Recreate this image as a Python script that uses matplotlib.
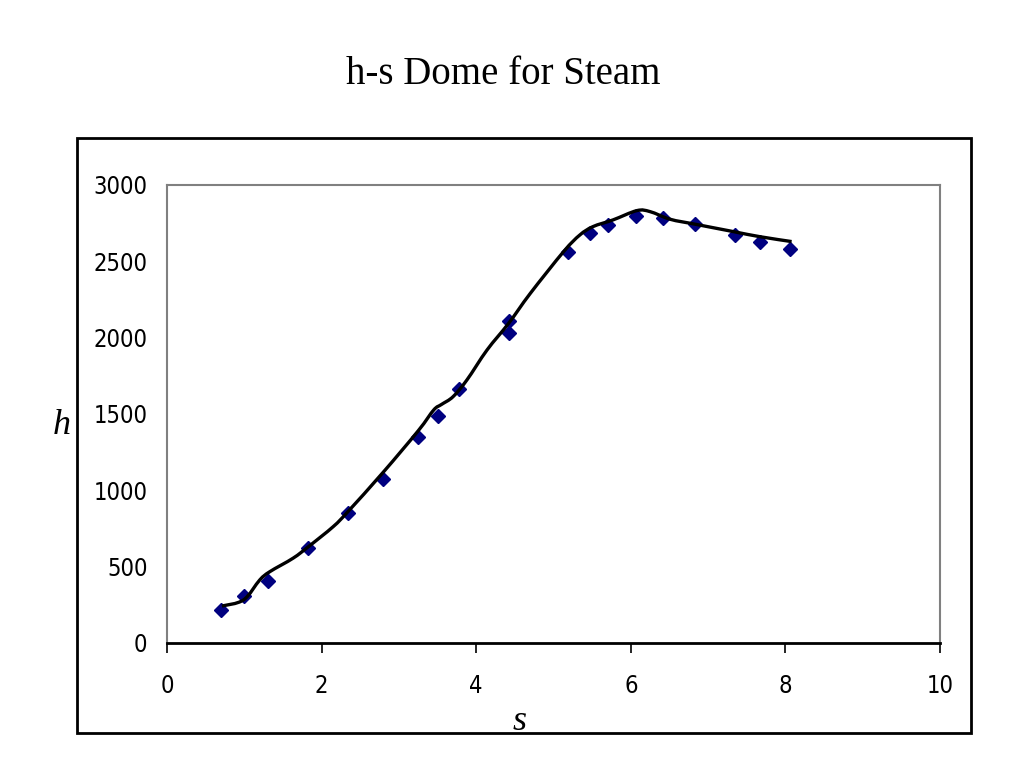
import numpy as np
import matplotlib.pyplot as plt
from matplotlib.path import Path
from matplotlib.patches import PathPatch, Rectangle
from matplotlib import font_manager

# measured points (entropy s, enthalpy h)
s_pts = [0.70, 1.00, 1.30, 1.83, 2.34, 2.80, 3.25, 3.50, 3.78, 4.42, 4.42,
         5.19, 5.47, 5.70, 6.07, 6.41, 6.83, 7.35, 7.67, 8.06]
h_pts = [216, 308, 408, 620, 850, 1074, 1347, 1487, 1664, 2111, 2028,
         2559, 2683, 2738, 2796, 2785, 2744, 2670, 2624, 2580]

# smoothed curve
s_line = [0.71, 0.99, 1.20, 1.33, 1.63, 1.83, 2.15, 2.34, 2.80, 3.25,
          3.45, 3.55, 3.70, 3.88, 4.14, 4.42, 4.70, 5.13, 5.34, 5.51,
          5.77, 6.08, 6.25, 6.51, 6.83, 7.33, 7.67, 8.08]
h_line = [242, 282, 413, 467, 555, 631, 762, 860, 1120, 1390,
          1526, 1562, 1613, 1723, 1919, 2094, 2290, 2563, 2672, 2727,
          2771, 2832, 2825, 2775, 2743, 2694, 2661, 2629]

x_ticks = [0, 2, 4, 6, 8, 10]
y_ticks = [0, 500, 1000, 1500, 2000, 2500, 3000]

names = {f.name for f in font_manager.fontManager.ttflist}
if "DejaVu Sans Condensed" in names:
    tick_font = {"family": "DejaVu Sans Condensed", "size": 18}
else:
    tick_font = {"family": "DejaVu Sans", "stretch": "condensed", "size": 17}

fig = plt.figure(figsize=(10.24, 7.68), dpi=100)
ax = fig.add_axes([0.1631, 0.1628, 0.7549, 0.5964])

# smooth path (Catmull-Rom as bezier segments) through the curve vertices
P = np.column_stack([s_line, h_line]).astype(float)
verts = [tuple(P[0])]
codes = [Path.MOVETO]
for i in range(len(P) - 1):
    p0 = P[i - 1] if i > 0 else P[i]
    p1, p2 = P[i], P[i + 1]
    p3 = P[i + 2] if i + 2 < len(P) else P[i + 1]
    c1 = p1 + (p2 - p0) / 6.0
    c2 = p2 - (p3 - p1) / 6.0
    verts += [tuple(c1), tuple(c2), tuple(p2)]
    codes += [Path.CURVE4] * 3
ax.add_patch(PathPatch(Path(verts, codes), fill=False, color="black",
                       lw=2.4, zorder=3))

ax.plot(s_pts, h_pts, linestyle="none", marker="D", markersize=7,
        color="#000080", zorder=2)

ax.set_xlim(0, 10)
ax.set_ylim(0, 3000)
ax.set_xticks(x_ticks)
ax.set_yticks(y_ticks)

ax.set_xticklabels([str(v) for v in x_ticks], fontdict=tick_font)
ax.set_yticklabels([str(v) for v in y_ticks], fontdict=tick_font)
ax.tick_params(axis="x", direction="out", length=7, width=1.2, pad=15, color="black")
ax.tick_params(axis="y", length=0, pad=14)

for side in ["top", "right", "left"]:
    ax.spines[side].set_color("#808080")
    ax.spines[side].set_linewidth(1.5)
ax.spines["bottom"].set_color("black")
ax.spines["bottom"].set_linewidth(2)

# outer chart frame
fig.patches.append(Rectangle((77 / 1024, 1 - 733 / 768), 894 / 1024, 595 / 768,
                             transform=fig.transFigure, fill=False,
                             edgecolor="black", lw=2))

fig.text(503 / 1024, 1 - 74 / 768, "h-s Dome for Steam", ha="center", va="center",
         family="Liberation Serif", fontsize=28)
fig.text(62 / 1024, 1 - 425 / 768, "h", ha="center", va="center",
         family="Liberation Serif", style="italic", fontsize=26)
fig.text(520 / 1024, 1 - 722 / 768, "s", ha="center", va="center",
         family="Liberation Serif", style="italic", fontsize=26)

fig.savefig("out.png", dpi=100)
